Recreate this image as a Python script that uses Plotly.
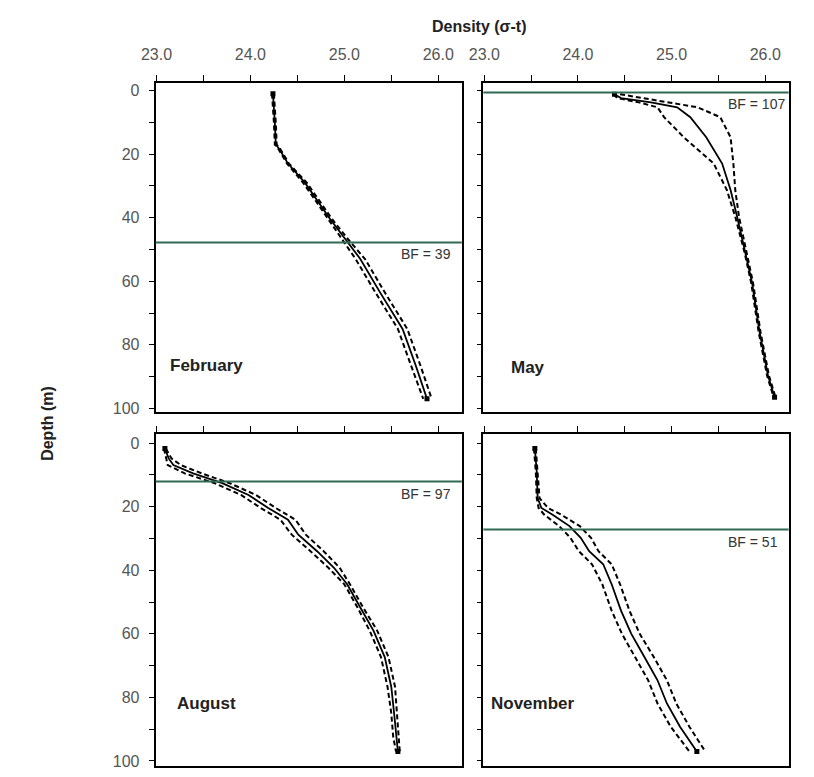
import plotly.graph_objects as go

# ---------------- data ----------------
months = ["February", "May", "August", "November"]
bf_labels = ["BF = 39", "BF = 107", "BF = 97", "BF = 51"]
bf_line_depth = [47.8, 0.6, 12.1, 27.2]

feb_depth = [1, 5, 10, 17, 18.5, 23, 29, 34.5, 40.5, 47.5, 53, 63.5, 75, 86.5, 97]
feb_mean = [24.24, 24.25, 24.26, 24.27, 24.31, 24.40, 24.58, 24.71, 24.85, 25.03, 25.17, 25.38, 25.62, 25.76, 25.88]
feb_low = [24.23, 24.24, 24.25, 24.26, 24.30, 24.39, 24.56, 24.69, 24.83, 25.00, 25.12, 25.33, 25.57, 25.71, 25.84]
feb_high = [24.25, 24.26, 24.27, 24.28, 24.32, 24.41, 24.60, 24.73, 24.87, 25.06, 25.22, 25.43, 25.67, 25.81, 25.93]

may_depth = [1.2, 2.4, 3.75, 5.3, 8.4, 14.7, 23, 31.3, 39.7, 51, 60.5, 76, 89.7, 96.5]
may_mean = [24.39, 24.46, 24.78, 25.06, 25.20, 25.37, 25.54, 25.63, 25.70, 25.79, 25.86, 25.94, 26.03, 26.10]
may_low = [24.38, 24.42, 24.65, 24.85, 24.92, 25.13, 25.45, 25.59, 25.68, 25.78, 25.85, 25.93, 26.02, 26.09]
may_high = [24.45, 24.70, 25.00, 25.28, 25.52, 25.63, 25.66, 25.68, 25.72, 25.80, 25.87, 25.95, 26.04, 26.11]

aug_depth = [1.7, 4.8, 6.9, 9.5, 12.6, 16.3, 20.4, 24.1, 28.8, 34, 39.2, 44.4, 51.7, 59, 67.3, 76.7, 85, 92.3, 97]
aug_mean = [23.09, 23.13, 23.18, 23.39, 23.70, 23.98, 24.19, 24.40, 24.51, 24.71, 24.89, 25.03, 25.17, 25.31, 25.43, 25.50, 25.53, 25.55, 25.57]
aug_low = [23.08, 23.10, 23.12, 23.30, 23.62, 23.90, 24.11, 24.32, 24.44, 24.64, 24.83, 25.00, 25.14, 25.27, 25.39, 25.46, 25.50, 25.52, 25.55]
aug_high = [23.10, 23.16, 23.26, 23.48, 23.78, 24.06, 24.27, 24.48, 24.59, 24.78, 24.95, 25.06, 25.20, 25.35, 25.47, 25.54, 25.56, 25.58, 25.59]

nov_depth = [1.7, 9, 17.3, 20.4, 22.5, 26.1, 29.8, 34, 38.1, 44.4, 52.7, 60, 67.3, 74.6, 81.9, 89.2, 97]
nov_mean = [23.54, 23.56, 23.57, 23.61, 23.73, 23.91, 24.03, 24.12, 24.27, 24.36, 24.46, 24.57, 24.71, 24.85, 24.95, 25.09, 25.27]
nov_low = [23.53, 23.55, 23.56, 23.58, 23.64, 23.80, 23.92, 24.01, 24.15, 24.26, 24.36, 24.47, 24.61, 24.75, 24.85, 24.99, 25.19]
nov_high = [23.55, 23.57, 23.59, 23.68, 23.82, 24.02, 24.14, 24.22, 24.36, 24.45, 24.55, 24.66, 24.81, 24.95, 25.05, 25.19, 25.36]

x_tick_vals = [23.0, 24.0, 25.0, 26.0]
x_tick_text = ["23.0", "24.0", "25.0", "26.0"]
y_tick_vals = [0, 20, 40, 60, 80, 100]

# ---------------- layout geometry (pixels -> paper) ----------------
W, H = 814, 777
def px_x(a, b):
    return [a / W, b / W]
def px_y(top, bottom):
    return [1 - bottom / H, 1 - top / H]

panels = [
    dict(depth=feb_depth, mean=feb_mean, low=feb_low, high=feb_high,
         xd=px_x(135, 447), yd=px_y(75, 407), yr=[101.25, -2.5],
         xlab=True, ylab=True, mpos=(0.042, 0.858)),
    dict(depth=may_depth, mean=may_mean, low=may_low, high=may_high,
         xd=px_x(469, 780), yd=px_y(75, 407), yr=[101.25, -2.5],
         xlab=True, ylab=False, mpos=(0.084, 0.864)),
    dict(depth=aug_depth, mean=aug_mean, low=aug_low, high=aug_high,
         xd=px_x(135, 447), yd=px_y(429, 763), yr=[101.6, -2.8],
         xlab=False, ylab=True, mpos=(0.064, 0.811)),
    dict(depth=nov_depth, mean=nov_mean, low=nov_low, high=nov_high,
         xd=px_x(469, 780), yd=px_y(429, 763), yr=[101.6, -2.8],
         xlab=False, ylab=False, mpos=(0.019, 0.811)),
]

FONT = "Liberation Sans, Arial, sans-serif"
fig = go.Figure()
annotations = []
shapes = []
layout_axes = {}

for i, p in enumerate(panels):
    n = "" if i == 0 else str(i + 1)
    xa, ya = "x" + n, "y" + n
    for key, dash, w in (("low", "5px,3px", 2.0), ("high", "5px,3px", 2.0), ("mean", "solid", 1.8)):
        fig.add_trace(go.Scatter(
            x=p[key], y=p["depth"], mode="lines", xaxis=xa, yaxis=ya,
            line=dict(color="black", width=w, dash=dash), showlegend=False,
            hoverinfo="skip"))
    fig.add_trace(go.Scatter(
        x=[p["mean"][0], p["mean"][-1]], y=[p["depth"][0], p["depth"][-1]],
        mode="markers", xaxis=xa, yaxis=ya,
        marker=dict(symbol="square", size=5, color="black"), showlegend=False))

    layout_axes["xaxis" + n] = dict(
        domain=p["xd"], anchor=ya, side="top", range=[22.99, 26.25],
        tickvals=x_tick_vals, ticktext=x_tick_text, showticklabels=p["xlab"],
        ticks="outside", ticklen=6, tickwidth=1.2, tickcolor="black",
        minor=dict(dtick=0.5, tick0=23, ticks="outside", ticklen=6, tickwidth=1.2, tickcolor="black"),
        showline=True, mirror=True, linecolor="black", linewidth=1.6,
        showgrid=False, zeroline=False, ticklabelstandoff=8,
        tickfont=dict(family=FONT, size=16, color="#555555"))
    layout_axes["yaxis" + n] = dict(
        domain=p["yd"], anchor=xa, range=p["yr"],
        tickvals=y_tick_vals, showticklabels=p["ylab"],
        ticks="outside", ticklen=5, tickwidth=1.2, tickcolor="black",
        minor=dict(dtick=10, tick0=0, ticks="outside", ticklen=5, tickwidth=1.2, tickcolor="black"),
        showline=True, mirror=True, linecolor="black", linewidth=1.6,
        showgrid=False, zeroline=False, ticklabelstandoff=6,
        tickfont=dict(family=FONT, size=16, color="#555555"))

    shapes.append(dict(type="line", xref=xa + " domain", yref=ya,
                       x0=0, x1=1, y0=bf_line_depth[i], y1=bf_line_depth[i],
                       line=dict(color="#2e6b52", width=2)))
    annotations.append(dict(xref=xa + " domain", yref=ya, x=0.795, y=bf_line_depth[i],
                            xanchor="left", yanchor="top", yshift=-2, showarrow=False,
                            text=bf_labels[i],
                            font=dict(family=FONT, size=14, color="#333333")))
    annotations.append(dict(xref=xa + " domain", yref=ya + " domain",
                            x=p["mpos"][0], y=1 - p["mpos"][1],
                            xanchor="left", yanchor="middle", showarrow=False,
                            text="<b>" + months[i] + "</b>",
                            font=dict(family=FONT, size=17, color="#222222")))

annotations.append(dict(xref="paper", yref="paper", x=465 / W, y=1 - 19 / H,
                        xanchor="center", yanchor="middle", showarrow=False,
                        text="<b>Density (σ-t)</b>",
                        font=dict(family=FONT, size=16, color="#222222")))
annotations.append(dict(xref="paper", yref="paper", x=25 / W, y=1 - 418 / H,
                        xanchor="center", yanchor="middle", showarrow=False,
                        textangle=-90, text="<b>Depth (m)</b>",
                        font=dict(family=FONT, size=16, color="#222222")))

fig.update_layout(width=W, height=H, margin=dict(l=0, r=0, t=0, b=0),
                  paper_bgcolor="white", plot_bgcolor="white",
                  annotations=annotations, shapes=shapes, **layout_axes)

fig.write_html("out.html")
